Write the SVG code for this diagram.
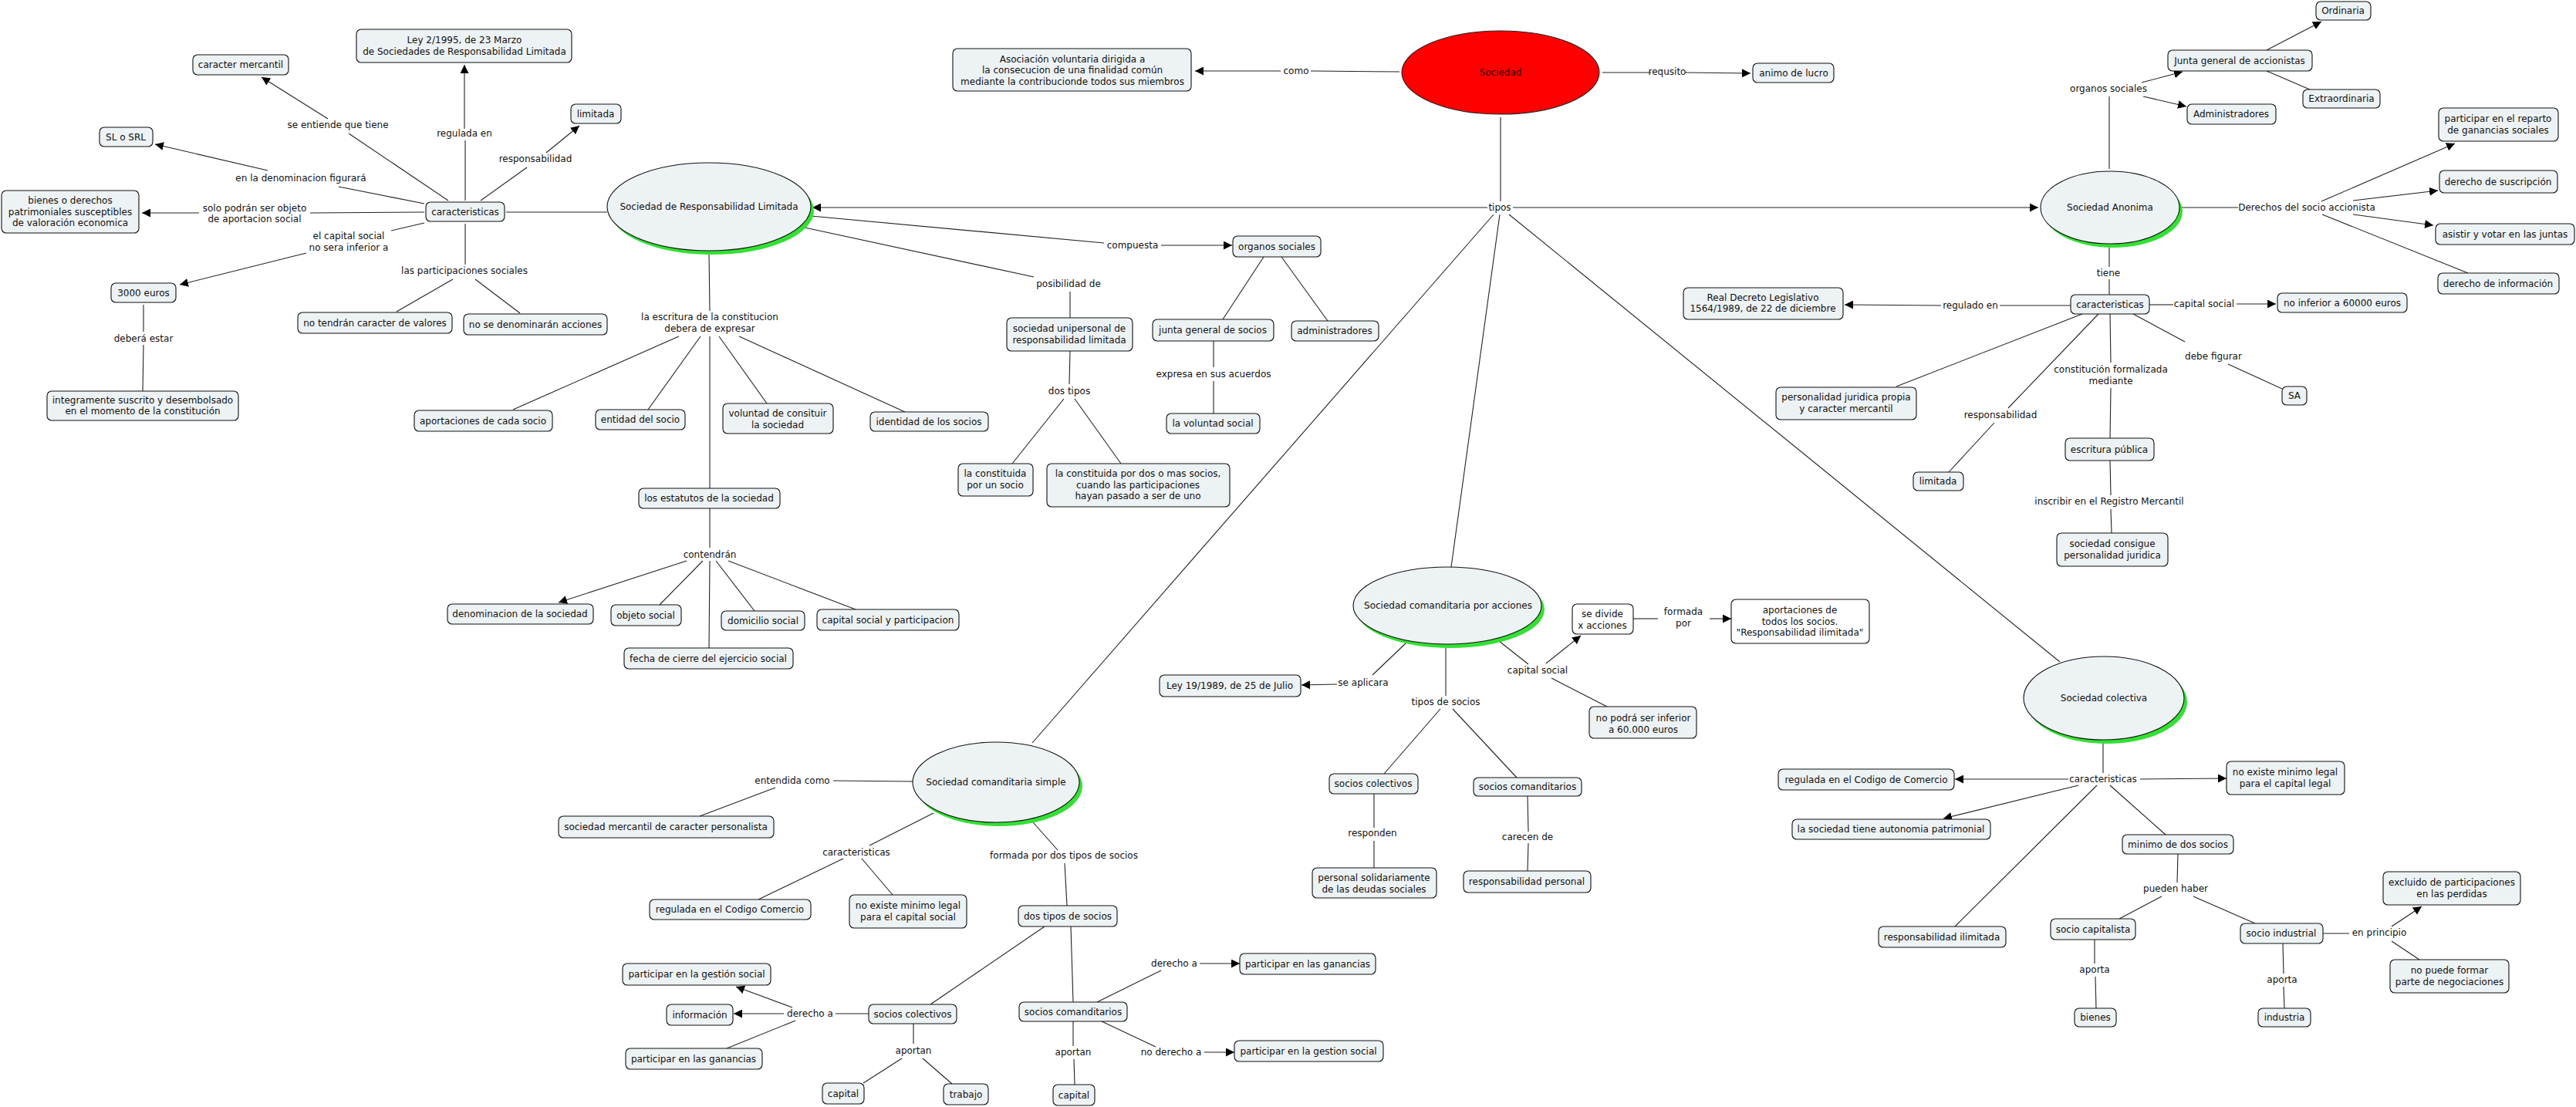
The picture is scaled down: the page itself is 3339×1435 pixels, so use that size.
<svg xmlns="http://www.w3.org/2000/svg" width="3339" height="1435" viewBox="0 0 3339 1435">
<style>
.n{fill:#edf2f4;stroke:#111;stroke-width:1.1}
.w{fill:#fff;stroke:#111;stroke-width:1.1}
.sh{fill:#33e033;stroke:none}
.e{fill:#edf2f4;stroke:#111;stroke-width:1.1}
text{font-family:"DejaVu Sans",Verdana,sans-serif;font-size:12px;fill:#111;text-anchor:middle}
.c line,.c polyline{stroke:#222;stroke-width:1.1;fill:none}
.c .a{marker-end:url(#ah)}
</style>
<defs>
<marker id="ah" markerUnits="userSpaceOnUse" markerWidth="12" markerHeight="11" refX="11" refY="5.5" orient="auto"><path d="M0,0 L11,5.5 L0,11 z" fill="#000"/></marker>
</defs>
<rect width="3339" height="1435" fill="#fff"/>
<g class="c" id="connectors">
<!-- Sociedad -->
<line x1="1814" y1="93" x2="1699" y2="92"/>
<line class="a" x1="1660" y1="92" x2="1549" y2="92"/>
<line x1="2077" y1="94" x2="2140" y2="94"/>
<line class="a" x1="2184" y1="94" x2="2269" y2="95"/>
<line x1="1945" y1="152" x2="1945" y2="261"/>
<line class="a" x1="1928" y1="269" x2="1053" y2="269"/>
<line class="a" x1="1961" y1="269" x2="2642" y2="269"/>
<line x1="1936" y1="278" x2="1338" y2="963"/>
<line x1="1944" y1="278" x2="1881" y2="735"/>
<line x1="1956" y1="278" x2="2670" y2="858"/>
<!-- SRL -->
<line x1="787" y1="275" x2="656" y2="275"/>
<line x1="581" y1="260" x2="452" y2="173"/>
<line class="a" x1="425" y1="154" x2="339" y2="100"/>
<line x1="603" y1="260" x2="603" y2="182"/>
<line class="a" x1="602" y1="167" x2="602" y2="84"/>
<line x1="623" y1="260" x2="683" y2="217"/>
<line class="a" x1="708" y1="198" x2="751" y2="163"/>
<line x1="550" y1="264" x2="439" y2="242"/>
<line class="a" x1="347" y1="221" x2="201" y2="187"/>
<line x1="550" y1="275" x2="402" y2="276"/>
<line class="a" x1="258" y1="276" x2="184" y2="276"/>
<line x1="550" y1="289" x2="507" y2="299"/>
<line class="a" x1="397" y1="328" x2="233" y2="369"/>
<line x1="603" y1="290" x2="603" y2="343"/>
<line x1="587" y1="362" x2="514" y2="404"/>
<line x1="616" y1="362" x2="674" y2="406"/>
<line x1="186" y1="395" x2="186" y2="430"/>
<line x1="186" y1="447" x2="185" y2="507"/>
<line x1="919" y1="328" x2="920" y2="403"/>
<line x1="880" y1="436" x2="665" y2="531"/>
<line x1="908" y1="436" x2="840" y2="531"/>
<line x1="920" y1="436" x2="920" y2="633"/>
<line x1="932" y1="436" x2="994" y2="523"/>
<line x1="958" y1="436" x2="1173" y2="534"/>
<line x1="920" y1="659" x2="920" y2="710"/>
<line class="a" x1="890" y1="727" x2="724" y2="781"/>
<line x1="911" y1="727" x2="855" y2="784"/>
<line x1="920" y1="727" x2="919" y2="840"/>
<line x1="928" y1="727" x2="978" y2="792"/>
<line x1="944" y1="727" x2="1109" y2="790"/>
<line x1="1051" y1="280" x2="1431" y2="315"/>
<line class="a" x1="1505" y1="318" x2="1597" y2="318"/>
<line x1="1043" y1="295" x2="1340" y2="359"/>
<line x1="1387" y1="378" x2="1387" y2="412"/>
<line x1="1387" y1="455" x2="1386" y2="498"/>
<line x1="1379" y1="517" x2="1312" y2="601"/>
<line x1="1393" y1="517" x2="1453" y2="601"/>
<line x1="1638" y1="333" x2="1585" y2="414"/>
<line x1="1661" y1="333" x2="1721" y2="416"/>
<line x1="1573" y1="442" x2="1573" y2="476"/>
<line x1="1573" y1="494" x2="1573" y2="536"/>
<!-- SA -->
<line x1="2734" y1="219" x2="2734" y2="125"/>
<line class="a" x1="2776" y1="107" x2="2829" y2="93"/>
<line class="a" x1="2778" y1="125" x2="2834" y2="138"/>
<line class="a" x1="2938" y1="65" x2="3009" y2="28"/>
<line x1="2938" y1="92" x2="2994" y2="116"/>
<line x1="2826" y1="269" x2="2901" y2="269"/>
<line class="a" x1="3009" y1="261" x2="3182" y2="186"/>
<line class="a" x1="3050" y1="260" x2="3160" y2="247"/>
<line class="a" x1="3050" y1="278" x2="3154" y2="292"/>
<line x1="3010" y1="278" x2="3199" y2="354"/>
<line x1="2734" y1="321" x2="2734" y2="346"/>
<line x1="2734" y1="362" x2="2734" y2="382"/>
<line x1="2786" y1="395" x2="2817" y2="395"/>
<line class="a" x1="2899" y1="394" x2="2950" y2="394"/>
<line x1="2684" y1="396" x2="2592" y2="396"/>
<line class="a" x1="2516" y1="396" x2="2391" y2="395"/>
<line x1="2699" y1="407" x2="2458" y2="501"/>
<line x1="2720" y1="407" x2="2603" y2="529"/>
<line x1="2585" y1="548" x2="2526" y2="612"/>
<line x1="2735" y1="407" x2="2736" y2="470"/>
<line x1="2736" y1="503" x2="2735" y2="568"/>
<line x1="2735" y1="597" x2="2736" y2="642"/>
<line x1="2736" y1="660" x2="2737" y2="691"/>
<line x1="2765" y1="407" x2="2832" y2="443"/>
<line x1="2888" y1="472" x2="2958" y2="504"/>
<!-- SCA -->
<line x1="1822" y1="834" x2="1779" y2="875"/>
<line class="a" x1="1733" y1="887" x2="1687" y2="888"/>
<line x1="1874" y1="835" x2="1874" y2="902"/>
<line x1="1867" y1="919" x2="1794" y2="1003"/>
<line x1="1883" y1="919" x2="1966" y2="1008"/>
<line x1="1943" y1="831" x2="1981" y2="861"/>
<line class="a" x1="2004" y1="860" x2="2049" y2="824"/>
<line x1="2011" y1="879" x2="2083" y2="916"/>
<line x1="2117" y1="802" x2="2149" y2="802"/>
<line class="a" x1="2216" y1="802" x2="2244" y2="802"/>
<line x1="1781" y1="1029" x2="1781" y2="1073"/>
<line x1="1781" y1="1090" x2="1781" y2="1125"/>
<line x1="1980" y1="1032" x2="1981" y2="1078"/>
<line x1="1981" y1="1093" x2="1980" y2="1129"/>
<!-- SC -->
<line x1="2726" y1="959" x2="2726" y2="1002"/>
<line class="a" x1="2681" y1="1010" x2="2534" y2="1010"/>
<line class="a" x1="2774" y1="1010" x2="2886" y2="1009"/>
<line class="a" x1="2694" y1="1018" x2="2519" y2="1061"/>
<line x1="2718" y1="1018" x2="2534" y2="1201"/>
<line x1="2735" y1="1018" x2="2807" y2="1082"/>
<line x1="2823" y1="1107" x2="2822" y2="1144"/>
<line x1="2802" y1="1162" x2="2747" y2="1191"/>
<line x1="2843" y1="1162" x2="2923" y2="1197"/>
<line x1="2715" y1="1218" x2="2715" y2="1249"/>
<line x1="2716" y1="1266" x2="2717" y2="1307"/>
<line x1="2959" y1="1223" x2="2960" y2="1262"/>
<line x1="2960" y1="1279" x2="2961" y2="1307"/>
<line x1="3011" y1="1210" x2="3045" y2="1210"/>
<line class="a" x1="3100" y1="1201" x2="3139" y2="1175"/>
<line x1="3100" y1="1220" x2="3136" y2="1244"/>
<!-- SCS -->
<line x1="1183" y1="1013" x2="1080" y2="1012"/>
<line x1="1005" y1="1021" x2="907" y2="1058"/>
<line x1="1210" y1="1054" x2="1127" y2="1096"/>
<line x1="1093" y1="1113" x2="983" y2="1166"/>
<line x1="1117" y1="1113" x2="1157" y2="1160"/>
<line x1="1339" y1="1066" x2="1371" y2="1102"/>
<line x1="1380" y1="1119" x2="1383" y2="1174"/>
<line x1="1354" y1="1201" x2="1206" y2="1302"/>
<line x1="1388" y1="1201" x2="1391" y2="1299"/>
<line x1="1126" y1="1314" x2="1083" y2="1314"/>
<line class="a" x1="1016" y1="1314" x2="951" y2="1314"/>
<line class="a" x1="1027" y1="1306" x2="954" y2="1279"/>
<line x1="1031" y1="1323" x2="942" y2="1359"/>
<line x1="1184" y1="1327" x2="1184" y2="1353"/>
<line x1="1169" y1="1372" x2="1119" y2="1404"/>
<line x1="1196" y1="1372" x2="1234" y2="1405"/>
<line x1="1422" y1="1299" x2="1505" y2="1258"/>
<line class="a" x1="1555" y1="1249" x2="1607" y2="1249"/>
<line x1="1391" y1="1324" x2="1391" y2="1356"/>
<line x1="1392" y1="1373" x2="1393" y2="1406"/>
<line x1="1428" y1="1324" x2="1498" y2="1357"/>
<line class="a" x1="1561" y1="1364" x2="1600" y2="1364"/>
</g>
<g id="labels">
<text x="1680" y="96">como</text>
<text x="2161" y="97">requsito</text>
<text x="1944" y="273">tipos</text>
<text x="438" y="166">se entiende que tiene</text>
<text x="602" y="177">regulada en</text>
<text x="694" y="210">responsabilidad</text>
<text x="390" y="235">en la denominacion figurará</text>
<text x="330" y="274">solo podrán ser objeto</text>
<text x="330" y="288">de aportacion social</text>
<text x="452" y="310">el capital social</text>
<text x="452" y="325">no sera inferior a</text>
<text x="602" y="355">las participaciones sociales</text>
<text x="186" y="443">deberá estar</text>
<text x="920" y="415">la escritura de la constitucion</text>
<text x="920" y="430">debera de expresar</text>
<text x="920" y="723">contendrán</text>
<text x="1468" y="322">compuesta</text>
<text x="1385" y="372">posibilidad de</text>
<text x="1386" y="511">dos tipos</text>
<text x="1573" y="489">expresa en sus acuerdos</text>
<text x="2733" y="119">organos sociales</text>
<text x="2990" y="273">Derechos del socio accionista</text>
<text x="2733" y="358">tiene</text>
<text x="2857" y="398">capital social</text>
<text x="2554" y="400">regulado en</text>
<text x="2593" y="542">responsabilidad</text>
<text x="2736" y="483">constitución formalizada</text>
<text x="2736" y="498">mediante</text>
<text x="2734" y="654">inscribir en el Registro Mercantil</text>
<text x="2869" y="466">debe figurar</text>
<text x="1767" y="889">se aplicara</text>
<text x="1874" y="914">tipos de socios</text>
<text x="1993" y="873">capital social</text>
<text x="2182" y="797">formada</text>
<text x="2182" y="812">por</text>
<text x="1779" y="1084">responden</text>
<text x="1980" y="1089">carecen de</text>
<text x="2726" y="1014">caracteristicas</text>
<text x="2820" y="1156">pueden haber</text>
<text x="2715" y="1261">aporta</text>
<text x="2958" y="1274">aporta</text>
<text x="3084" y="1213">en principio</text>
<text x="1027" y="1016">entendida como</text>
<text x="1110" y="1109">caracteristicas</text>
<text x="1379" y="1113">formada por dos tipos de socios</text>
<text x="1050" y="1318">derecho a</text>
<text x="1184" y="1366">aportan</text>
<text x="1522" y="1253">derecho a</text>
<text x="1391" y="1368">aportan</text>
<text x="1518" y="1368">no derecho a</text>
</g>
<!-- main ellipses -->
<g id="n_sociedad"><ellipse cx="1945" cy="94" rx="128" ry="54" fill="#ff0000" stroke="#222" stroke-width="1.1"/><text x="1945" y="98" style="fill:#330000">Sociedad</text></g>
<g id="n_srl"><ellipse class="sh" cx="923" cy="273" rx="132" ry="57"/><ellipse class="e" cx="919" cy="268" rx="132" ry="57"/><text x="919" y="272">Sociedad de Responsabilidad Limitada</text></g>
<g id="n_sa"><ellipse class="sh" cx="2739" cy="274" rx="90" ry="47"/><ellipse class="e" cx="2735" cy="269" rx="90" ry="47"/><text x="2735" y="273">Sociedad Anonima</text></g>
<g id="n_sca"><ellipse class="sh" cx="1880" cy="790" rx="122" ry="50"/><ellipse class="e" cx="1876" cy="785" rx="122" ry="50"/><text x="1877" y="789">Sociedad comanditaria por acciones</text></g>
<g id="n_sc"><ellipse class="sh" cx="2731" cy="910" rx="104" ry="54"/><ellipse class="e" cx="2727" cy="905" rx="104" ry="54"/><text x="2727" y="909">Sociedad colectiva</text></g>
<g id="n_scs"><ellipse class="sh" cx="1295" cy="1019" rx="108" ry="52"/><ellipse class="e" cx="1291" cy="1014" rx="108" ry="52"/><text x="1291" y="1018">Sociedad comanditaria simple</text></g>
<!-- top -->
<g id="n_asociacion"><rect class="n" x="1235" y="63" width="309" height="55" rx="6"/><text x="1390" y="81">Asociación voluntaria dirigida a</text><text x="1390" y="95">la consecucion de una finalidad común</text><text x="1390" y="110">mediante la contribucionde todos sus miembros</text></g>
<g id="n_animo"><rect class="n" x="2272" y="82" width="105" height="25" rx="6"/><text x="2325" y="99">animo de lucro</text></g>
<!-- SRL nodes -->
<g id="n_ley"><rect class="n" x="462" y="38" width="279" height="43" rx="6"/><text x="602" y="56">Ley 2/1995, de 23 Marzo</text><text x="602" y="71">de Sociedades de Responsabilidad Limitada</text></g>
<g id="n_mercantil"><rect class="n" x="250" y="71" width="124" height="26" rx="6"/><text x="312" y="88">caracter mercantil</text></g>
<g id="n_limitada"><rect class="n" x="740" y="135" width="65" height="25" rx="6"/><text x="772" y="152">limitada</text></g>
<g id="n_sl"><rect class="n" x="129" y="165" width="69" height="25" rx="6"/><text x="163" y="182">SL o SRL</text></g>
<g id="n_bienes_der"><rect class="n" x="2" y="247" width="178" height="55" rx="6"/><text x="91" y="264">bienes o derechos</text><text x="91" y="279">patrimoniales susceptibles</text><text x="91" y="293">de valoración economica</text></g>
<g id="n_caract_srl"><rect class="n" x="552" y="262" width="102" height="25" rx="6"/><text x="603" y="279">caracteristicas</text></g>
<g id="n_3000"><rect class="n" x="144" y="367" width="84" height="25" rx="6"/><text x="186" y="384">3000 euros</text></g>
<g id="n_valores"><rect class="n" x="386" y="405" width="200" height="27" rx="6"/><text x="486" y="423">no tendrán caracter de valores</text></g>
<g id="n_acciones"><rect class="n" x="601" y="407" width="186" height="27" rx="6"/><text x="694" y="425">no se denominarán acciones</text></g>
<g id="n_integra"><rect class="n" x="61" y="507" width="248" height="38" rx="6"/><text x="185" y="523">integramente suscrito y desembolsado</text><text x="185" y="537">en el momento de la constitución</text></g>
<g id="n_aport_socio"><rect class="n" x="537" y="532" width="179" height="27" rx="6"/><text x="626" y="550">aportaciones de cada socio</text></g>
<g id="n_entidad"><rect class="n" x="772" y="531" width="116" height="26" rx="6"/><text x="830" y="548">entidad del socio</text></g>
<g id="n_voluntad"><rect class="n" x="937" y="523" width="143" height="39" rx="6"/><text x="1008" y="540">voluntad de consituir</text><text x="1008" y="555">la sociedad</text></g>
<g id="n_identidad"><rect class="n" x="1128" y="534" width="153" height="25" rx="6"/><text x="1204" y="551">identidad de los socios</text></g>
<g id="n_estatutos"><rect class="n" x="828" y="633" width="183" height="26" rx="6"/><text x="919" y="650">los estatutos de la sociedad</text></g>
<g id="n_denominacion"><rect class="n" x="580" y="783" width="189" height="26" rx="6"/><text x="674" y="800">denominacion de la sociedad</text></g>
<g id="n_objeto"><rect class="n" x="792" y="784" width="91" height="27" rx="6"/><text x="837" y="802">objeto social</text></g>
<g id="n_domicilio"><rect class="n" x="935" y="792" width="108" height="25" rx="6"/><text x="989" y="809">domicilio social</text></g>
<g id="n_capital_part"><rect class="n" x="1059" y="790" width="184" height="27" rx="6"/><text x="1151" y="808">capital social y participacion</text></g>
<g id="n_fecha"><rect class="n" x="809" y="840" width="219" height="27" rx="6"/><text x="918" y="858">fecha de cierre del ejercicio social</text></g>
<g id="n_organos_srl"><rect class="n" x="1598" y="306" width="114" height="27" rx="6"/><text x="1655" y="324">organos sociales</text></g>
<g id="n_junta_socios"><rect class="n" x="1494" y="414" width="157" height="28" rx="6"/><text x="1572" y="432">junta general de socios</text></g>
<g id="n_admin_srl"><rect class="n" x="1674" y="416" width="113" height="26" rx="6"/><text x="1730" y="433">administradores</text></g>
<g id="n_vol_social"><rect class="n" x="1512" y="536" width="121" height="26" rx="6"/><text x="1572" y="553">la voluntad social</text></g>
<g id="n_unipersonal"><rect class="n" x="1305" y="412" width="163" height="43" rx="6"/><text x="1386" y="430">sociedad unipersonal de</text><text x="1386" y="445">responsabilidad limitada</text></g>
<g id="n_const_uno"><rect class="n" x="1242" y="601" width="97" height="42" rx="6"/><text x="1290" y="618">la constituida</text><text x="1290" y="633">por un socio</text></g>
<g id="n_const_dos"><rect class="n" x="1357" y="601" width="237" height="56" rx="6"/><text x="1475" y="618">la constituida por dos o mas socios,</text><text x="1475" y="633">cuando las participaciones</text><text x="1475" y="647">hayan pasado a ser de uno</text></g>
<!-- SA nodes -->
<g id="n_ordinaria"><rect class="n" x="3002" y="2" width="71" height="24" rx="6"/><text x="3037" y="18">Ordinaria</text></g>
<g id="n_junta_acc"><rect class="n" x="2810" y="65" width="187" height="27" rx="6"/><text x="2903" y="83">Junta general de accionistas</text></g>
<g id="n_extra"><rect class="n" x="2985" y="116" width="100" height="24" rx="6"/><text x="3035" y="132">Extraordinaria</text></g>
<g id="n_admin_sa"><rect class="n" x="2835" y="135" width="115" height="26" rx="6"/><text x="2892" y="152">Administradores</text></g>
<g id="n_reparto"><rect class="n" x="3161" y="140" width="155" height="43" rx="6"/><text x="3238" y="158">participar en el reparto</text><text x="3238" y="173">de ganancias sociales</text></g>
<g id="n_suscripcion"><rect class="n" x="3162" y="221" width="153" height="29" rx="6"/><text x="3238" y="240">derecho de suscripción</text></g>
<g id="n_asistir"><rect class="n" x="3157" y="290" width="180" height="27" rx="6"/><text x="3247" y="308">asistir y votar en las juntas</text></g>
<g id="n_informacion"><rect class="n" x="3160" y="354" width="157" height="27" rx="6"/><text x="3238" y="372">derecho de información</text></g>
<g id="n_caract_sa"><rect class="n" x="2684" y="382" width="102" height="25" rx="6"/><text x="2735" y="399">caracteristicas</text></g>
<g id="n_inferior"><rect class="n" x="2952" y="380" width="168" height="25" rx="6"/><text x="3036" y="397">no inferior a 60000 euros</text></g>
<g id="n_real_decreto"><rect class="n" x="2182" y="373" width="207" height="41" rx="6"/><text x="2285" y="390">Real Decreto Legislativo</text><text x="2285" y="404">1564/1989, de 22 de diciembre</text></g>
<g id="n_personalidad"><rect class="n" x="2302" y="502" width="182" height="42" rx="6"/><text x="2393" y="519">personalidad juridica propia</text><text x="2393" y="534">y caracter mercantil</text></g>
<g id="n_limitada_sa"><rect class="n" x="2480" y="612" width="65" height="24" rx="6"/><text x="2512" y="628">limitada</text></g>
<g id="n_escritura"><rect class="n" x="2677" y="568" width="115" height="29" rx="6"/><text x="2734" y="587">escritura pública</text></g>
<g id="n_sa_box"><rect class="n" x="2958" y="501" width="32" height="24" rx="6"/><text x="2974" y="517">SA</text></g>
<g id="n_consigue"><rect class="n" x="2666" y="691" width="144" height="43" rx="6"/><text x="2738" y="709">sociedad consigue</text><text x="2738" y="724">personalidad juridica</text></g>
<!-- SCA nodes -->
<g id="n_divide"><rect class="w" x="2038" y="783" width="79" height="39" rx="6"/><text x="2077" y="800">se divide</text><text x="2077" y="815">x acciones</text></g>
<g id="n_aport_todos"><rect class="w" x="2244" y="777" width="179" height="57" rx="6"/><text x="2333" y="795">aportaciones de</text><text x="2333" y="810">todos los socios.</text><text x="2333" y="824">"Responsabilidad ilimitada"</text></g>
<g id="n_no_podra"><rect class="n" x="2060" y="916" width="139" height="41" rx="6"/><text x="2130" y="935">no podrá ser inferior</text><text x="2130" y="950">a 60.000 euros</text></g>
<g id="n_ley19"><rect class="n" x="1503" y="875" width="183" height="28" rx="6"/><text x="1594" y="893">Ley 19/1989, de 25 de Julio</text></g>
<g id="n_col_sca"><rect class="n" x="1723" y="1003" width="115" height="26" rx="6"/><text x="1780" y="1020">socios colectivos</text></g>
<g id="n_com_sca"><rect class="n" x="1910" y="1008" width="140" height="24" rx="6"/><text x="1980" y="1024">socios comanditarios</text></g>
<g id="n_solidario"><rect class="n" x="1701" y="1125" width="161" height="39" rx="6"/><text x="1781" y="1142">personal solidariamente</text><text x="1781" y="1157">de las deudas sociales</text></g>
<g id="n_resp_personal"><rect class="n" x="1897" y="1129" width="165" height="28" rx="6"/><text x="1979" y="1147">responsabilidad personal</text></g>
<!-- SC nodes -->
<g id="n_regulada_cc"><rect class="n" x="2305" y="997" width="228" height="27" rx="6"/><text x="2419" y="1015">regulada en el Codigo de Comercio</text></g>
<g id="n_autonomia"><rect class="n" x="2323" y="1062" width="257" height="26" rx="6"/><text x="2451" y="1079">la sociedad tiene autonomia patrimonial</text></g>
<g id="n_ilimitada"><rect class="n" x="2435" y="1201" width="165" height="27" rx="6"/><text x="2517" y="1219">responsabilidad ilimitada</text></g>
<g id="n_no_existe_sc"><rect class="n" x="2886" y="987" width="153" height="43" rx="6"/><text x="2962" y="1005">no existe minimo legal</text><text x="2962" y="1020">para el capital legal</text></g>
<g id="n_minimo"><rect class="n" x="2751" y="1082" width="144" height="25" rx="6"/><text x="2823" y="1099">minimo de dos socios</text></g>
<g id="n_capitalista"><rect class="n" x="2658" y="1191" width="110" height="27" rx="6"/><text x="2713" y="1209">socio capitalista</text></g>
<g id="n_industrial"><rect class="n" x="2904" y="1197" width="107" height="26" rx="6"/><text x="2957" y="1214">socio industrial</text></g>
<g id="n_bienes"><rect class="n" x="2689" y="1307" width="54" height="24" rx="6"/><text x="2716" y="1323">bienes</text></g>
<g id="n_industria"><rect class="n" x="2927" y="1307" width="68" height="24" rx="6"/><text x="2961" y="1323">industria</text></g>
<g id="n_excluido"><rect class="n" x="3089" y="1130" width="178" height="43" rx="6"/><text x="3178" y="1148">excluido de participaciones</text><text x="3178" y="1163">en las perdidas</text></g>
<g id="n_no_puede"><rect class="n" x="3098" y="1244" width="154" height="43" rx="6"/><text x="3175" y="1262">no puede formar</text><text x="3175" y="1277">parte de negociaciones</text></g>
<!-- SCS nodes -->
<g id="n_mercantil_pers"><rect class="n" x="724" y="1058" width="279" height="28" rx="6"/><text x="863" y="1076">sociedad mercantil de caracter personalista</text></g>
<g id="n_regulada_ccom"><rect class="n" x="842" y="1166" width="209" height="26" rx="6"/><text x="946" y="1183">regulada en el Codigo Comercio</text></g>
<g id="n_no_existe_scs"><rect class="n" x="1101" y="1160" width="152" height="43" rx="6"/><text x="1177" y="1178">no existe minimo legal</text><text x="1177" y="1193">para el capital social</text></g>
<g id="n_dos_tipos"><rect class="n" x="1320" y="1174" width="128" height="27" rx="6"/><text x="1384" y="1192">dos tipos de socios</text></g>
<g id="n_col_scs"><rect class="n" x="1126" y="1302" width="114" height="25" rx="6"/><text x="1183" y="1319">socios colectivos</text></g>
<g id="n_com_scs"><rect class="n" x="1321" y="1299" width="140" height="25" rx="6"/><text x="1391" y="1316">socios comanditarios</text></g>
<g id="n_part_gestion"><rect class="n" x="807" y="1249" width="192" height="28" rx="6"/><text x="903" y="1267">participar en la gestión social</text></g>
<g id="n_info_scs"><rect class="n" x="864" y="1302" width="86" height="27" rx="6"/><text x="907" y="1320">información</text></g>
<g id="n_part_ganancias"><rect class="n" x="811" y="1359" width="177" height="27" rx="6"/><text x="899" y="1377">participar en las ganancias</text></g>
<g id="n_capital1"><rect class="n" x="1066" y="1404" width="54" height="27" rx="6"/><text x="1093" y="1422">capital</text></g>
<g id="n_trabajo"><rect class="n" x="1223" y="1405" width="58" height="27" rx="6"/><text x="1252" y="1423">trabajo</text></g>
<g id="n_capital2"><rect class="n" x="1365" y="1406" width="54" height="27" rx="6"/><text x="1392" y="1424">capital</text></g>
<g id="n_part_ganancias2"><rect class="n" x="1607" y="1236" width="176" height="27" rx="6"/><text x="1695" y="1254">participar en las ganancias</text></g>
<g id="n_part_gestion2"><rect class="n" x="1600" y="1349" width="193" height="27" rx="6"/><text x="1696" y="1367">participar en la gestion social</text></g>
</svg>
